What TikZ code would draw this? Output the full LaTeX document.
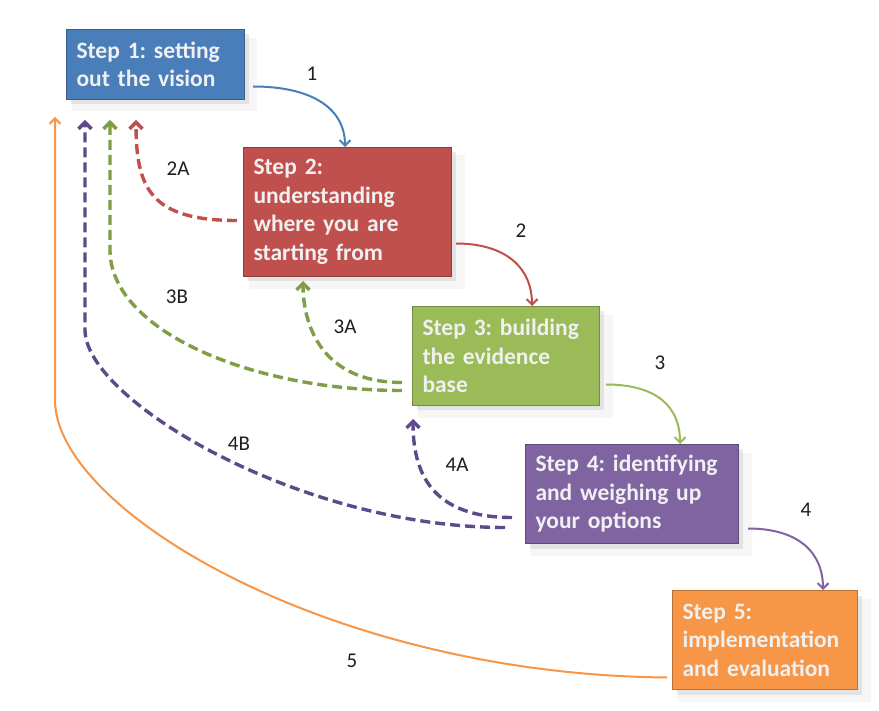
\documentclass[tikz,border=0pt]{standalone}
\usepackage{fontspec}
\setmainfont{Carlito}
\frenchspacing
\usetikzlibrary{arrows.meta,calc,shadows}
\definecolor{StepBlue}{HTML}{4A7EBB}
\definecolor{StepRed}{HTML}{C0504D}
\definecolor{StepGreen}{HTML}{9BBB59}
\definecolor{StepPurple}{HTML}{8064A2}
\definecolor{StepOrange}{HTML}{F79646}
\definecolor{DashGreen}{HTML}{7F9E45}
\definecolor{DashPurple}{HTML}{5E4A8A}
\definecolor{Ink}{HTML}{1E1E1E}
\tikzset{
  soft shadow/.style={drop shadow={opacity=.07,shadow xshift=9pt,shadow yshift=-10pt,shadow scale=1.04},drop shadow={opacity=.16,shadow xshift=4pt,shadow yshift=-5pt}},
  stepbox/.style={draw=#1!75!black,fill=#1,line width=1pt,anchor=north west,align=left,font=\fontsize{23.5}{28.5}\selectfont\bfseries,text=white!94!black,inner xsep=10pt,inner ysep=0pt,soft shadow},
  fwd/.style={-{Straight Barb[length=5.5pt,width=11pt]},draw=#1,line width=2pt},
  back/.style={-{Straight Barb[length=6.5pt,width=13pt]},draw=#1,line width=3.4pt,dash pattern=on 10pt off 5pt},
  lbl/.style={font=\fontsize{21}{24}\selectfont,text=Ink}
}
\begin{document}
\begin{tikzpicture}[x=1pt,y=-1pt]
  \useasboundingbox[fill=white] (0,0) rectangle (879,711);
  \node[stepbox=StepBlue,text width=158pt,minimum height=70pt] (s1) at (66,29) {Step 1: setting\\out the vision};
  \node[stepbox=StepRed,text width=188pt,minimum height=129pt] (s2) at (243,147) {Step 2:\\understanding\\where you are\\starting from};
  \node[stepbox=StepGreen,text width=167pt,minimum height=99pt] (s3) at (412,306) {Step 3: building\\the evidence\\base};
  \node[stepbox=StepPurple,text width=193pt,minimum height=99pt] (s4) at (525,444) {Step 4: identifying\\and weighing up\\your options};
  \node[stepbox=StepOrange,text width=165pt,minimum height=99pt] (s5) at (672,590) {Step 5:\\implementation\\and evaluation};
  % arrow tips under step 1
  \coordinate (t5) at (55,117);
  \coordinate (t4) at (85,120);
  \coordinate (t3) at (110,120);
  \coordinate (t2) at (136,120);
  \draw[fwd=StepBlue] ($(s1.east)+(8,22)$) .. controls +(60,0) and +(0,-38) .. ($(s2.north west)+(102,0)$);
  \draw[fwd=StepRed] ($(s2.east)+(4,31.5)$) .. controls +(50,0) and +(0,-38) .. ($(s3.north west)+(120,0)$);
  \draw[fwd=StepGreen] ($(s3.east)+(6,28.5)$) .. controls +(50,0) and +(0,-38) .. ($(s4.north west)+(155,0)$);
  \draw[fwd=StepPurple] ($(s4.east)+(9,34.5)$) .. controls +(50,0) and +(0,-38) .. ($(s5.north west)+(151,0)$);
  \draw[fwd=StepOrange] ($(s5.west)+(-5,37.5)$) .. controls +(-337,-3) and +(0,110) .. ($(t5)+(0,283)$) -- (t5);
  \draw[back=StepRed] ($(s2.west)+(-6,8.5)$) .. controls +(-87,0) and +(0,68) .. (t2);
  \draw[back=DashGreen] ($(s3.west)+(-10,26.5)$) .. controls +(-82,0) and +(0,42) .. ($(s2.south west)+(60,4)$);
  \draw[back=DashGreen] ($(s3.west)+(-10,34.5)$) .. controls +(-152,0) and +(0,80) .. ($(t3)+(0,130)$) -- (t3);
  \draw[back=DashPurple] ($(s4.west)+(-13,23.5)$) .. controls +(-82,0) and +(0,52) .. ($(s3.south west)+(1,13)$);
  \draw[back=DashPurple] ($(s4.west)+(-20,33.5)$) .. controls +(-205,0) and +(0,70) .. ($(t4)+(0,210)$) -- (t4);
  \node[lbl] (l1) at (312,74) {1};
  \node[lbl] (l2) at (521,231) {2};
  \node[lbl] (l3) at (660,363) {3};
  \node[lbl] (l4) at (806,510) {4};
  \node[lbl] (l5) at (352,661) {5};
  \node[lbl] (l2a) at (178,169) {2A};
  \node[lbl] (l3a) at (345,327) {3A};
  \node[lbl] (l3b) at (177,297) {3B};
  \node[lbl] (l4a) at (457,465) {4A};
  \node[lbl] (l4b) at (239,444) {4B};
\end{tikzpicture}
\end{document}
